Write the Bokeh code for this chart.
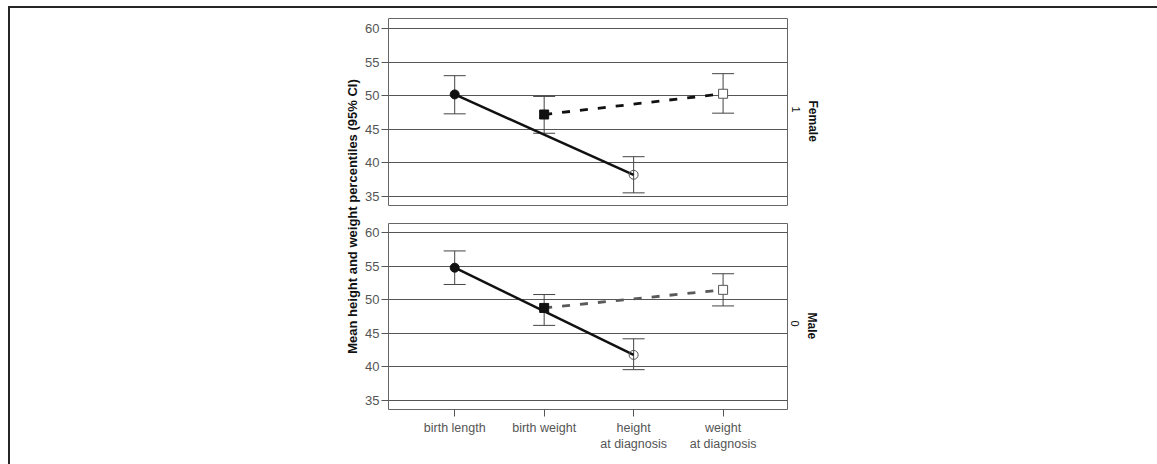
from math import pi
from bokeh.plotting import figure
from bokeh.layouts import row, column
from bokeh.models import (Range1d, FixedTicker, Whisker, TeeHead, ColumnDataSource, Label,
                          Div, Spacer)
from bokeh.embed import file_html
from bokeh.resources import INLINE

# ---------------- data ----------------
categories = ["birth length", "birth weight", "height\nat diagnosis", "weight\nat diagnosis"]
y_ticks = [35, 40, 45, 50, 55, 60]

height_cats = ["birth length", "height\nat diagnosis"]
weight_cats = ["birth weight", "weight\nat diagnosis"]

female_height_mean = [50.2, 38.2]
female_height_lower = [47.3, 35.5]
female_height_upper = [53.0, 40.9]
female_weight_mean = [47.2, 50.3]
female_weight_lower = [44.4, 47.4]
female_weight_upper = [49.9, 53.3]

male_height_mean = [54.8, 41.8]
male_height_lower = [52.3, 39.6]
male_height_upper = [57.3, 44.2]
male_weight_mean = [48.8, 51.5]
male_weight_lower = [46.2, 49.1]
male_weight_upper = [50.8, 53.9]

panel_names = ["Female", "Male"]
panel_codes = ["1", "0"]

y_title = "Mean height and weight percentiles (95% CI)"

# ---------------- styling ----------------
FONT = "Liberation Sans"
GRAY = "#555555"
DARK = "#111111"
BORDER = "#262626"

xpos = {c: i for i, c in enumerate(categories)}
x_range = Range1d(-0.74, 3.72)


def bare(width, height, **kw):
    f = figure(width=width, height=height, toolbar_location=None, title_location=None,
               x_axis_location=None, y_axis_location=None, output_backend="svg",
               border_fill_color="white", outline_line_color=None, **kw)
    f.grid.visible = False
    return f


def panel(height, mt, mb, yr, hm, hl, hu, wm, wl, wu, wcolor, show_x):
    p = figure(width=428, height=height, x_range=x_range, y_range=yr,
               min_border_left=23, min_border_right=3, min_border_top=mt,
               min_border_bottom=mb, toolbar_location=None, title_location=None,
               x_axis_location="below" if show_x else None,
               output_backend="svg", outline_line_color="#666666",
               outline_line_width=1, background_fill_color="white",
               border_fill_color="white")
    p.xgrid.visible = False
    p.yaxis.ticker = FixedTicker(ticks=y_ticks)
    p.ygrid.ticker = FixedTicker(ticks=y_ticks)
    p.ygrid.grid_line_color = GRAY
    p.ygrid.grid_line_width = 1
    p.yaxis.axis_line_color = None
    p.yaxis.major_tick_out = 7
    p.yaxis.major_tick_in = 0
    p.yaxis.minor_tick_out = 0
    p.yaxis.minor_tick_in = 0
    p.yaxis.major_tick_line_color = GRAY
    p.yaxis.major_label_text_color = GRAY
    p.yaxis.major_label_text_font = FONT
    p.yaxis.major_label_text_font_size = "13px"
    p.yaxis.major_label_standoff = 2
    if show_x:
        ticks = [xpos[c] for c in categories]
        p.xaxis.ticker = FixedTicker(ticks=ticks)
        p.xaxis.major_label_overrides = {xpos[c]: c for c in categories}
        p.xaxis.axis_line_color = None
        p.xaxis.major_tick_out = 7
        p.xaxis.major_tick_in = 0
        p.xaxis.minor_tick_out = 0
        p.xaxis.minor_tick_in = 0
        p.xaxis.major_tick_line_color = GRAY
        p.xaxis.major_label_text_color = GRAY
        p.xaxis.major_label_text_font = FONT
        p.xaxis.major_label_text_font_size = "12.5px"
        p.xaxis.major_label_standoff = 4

    hx = [xpos[c] for c in height_cats]
    wx = [xpos[c] for c in weight_cats]

    for xs, lo, up in ((hx, hl, hu), (wx, wl, wu)):
        src = ColumnDataSource(dict(x=xs, lower=lo, upper=up))
        p.add_layout(Whisker(base="x", lower="lower", upper="upper", source=src,
                             line_color="#444444", line_width=1,
                             upper_head=TeeHead(size=22, line_color="#444444", line_width=1),
                             lower_head=TeeHead(size=22, line_color="#444444", line_width=1)))

    p.line(hx, hm, line_color=DARK, line_width=2.5)
    p.line(wx, wm, line_color=wcolor, line_width=2.8, line_dash="8 10")

    p.scatter([hx[0]], [hm[0]], marker="circle", size=9, fill_color=DARK, line_color=DARK)
    p.scatter([hx[1]], [hm[1]], marker="circle", size=9, fill_color=None,
              line_color="#555555", line_width=1)
    p.scatter([wx[0]], [wm[0]], marker="square", size=9, fill_color=DARK, line_color=DARK)
    p.scatter([wx[1]], [wm[1]], marker="square", size=9, fill_color="white",
              line_color="#555555", line_width=1)
    return p


top = panel(206, 10, 9, Range1d(33.61, 61.54),
            female_height_mean, female_height_lower, female_height_upper,
            female_weight_mean, female_weight_lower, female_weight_upper,
            DARK, False)

bottom = panel(250, 9, 55, Range1d(33.66, 61.39),
               male_height_mean, male_height_lower, male_height_upper,
               male_weight_mean, male_weight_lower, male_weight_upper,
               "#5a5a5a", True)

# y-axis title spanning both panels (page pixel coordinates)
title_fig = bare(352, 456, x_range=Range1d(10, 362), y_range=Range1d(464, 8),
                 min_border=0, background_fill_color="white")
title_fig.add_layout(Label(x=352, y=216, text=y_title, angle=pi / 2, text_align="center",
                           text_baseline="middle", text_font=FONT,
                           text_font_style="bold", text_font_size="13px",
                           text_color=DARK))

# facet labels on the right (page pixel coordinates)
right_fig = bare(367, 456, x_range=Range1d(790, 1157), y_range=Range1d(464, 8),
                 min_border=0, background_fill_color="white")
name_pos = [(812, 100), (811, 312)]
code_pos = [(795, 106), (794, 320)]
for name, code, (nx, ny), (cx, cy) in zip(panel_names, panel_codes, name_pos, code_pos):
    right_fig.add_layout(Label(x=nx, y=ny, text=name, angle=-pi / 2, text_align="left",
                               text_baseline="middle", text_font=FONT,
                               text_font_style="bold", text_font_size="12px",
                               text_color=DARK))
    right_fig.add_layout(Label(x=cx, y=cy, text=code, angle=-pi / 2, text_align="left",
                               text_baseline="middle", text_font=FONT,
                               text_font_size="11px", text_color=DARK))

# outer frame lines (top and left)
top_line = Div(text="", width=1149, height=2, margin=0,
               styles={"background-color": BORDER})
top_strip = column(Spacer(width=1157, height=6, margin=0),
                   row(Spacer(width=8, height=2, margin=0), top_line))
left_line = Div(text="", width=2, height=456, margin=0,
                styles={"background-color": BORDER})
left_strip = row(Spacer(width=8, height=456, margin=0), left_line)

layout = column(top_strip, row(left_strip, title_fig, column(top, bottom), right_fig))

open("out.html", "w").write(file_html(layout, INLINE))
